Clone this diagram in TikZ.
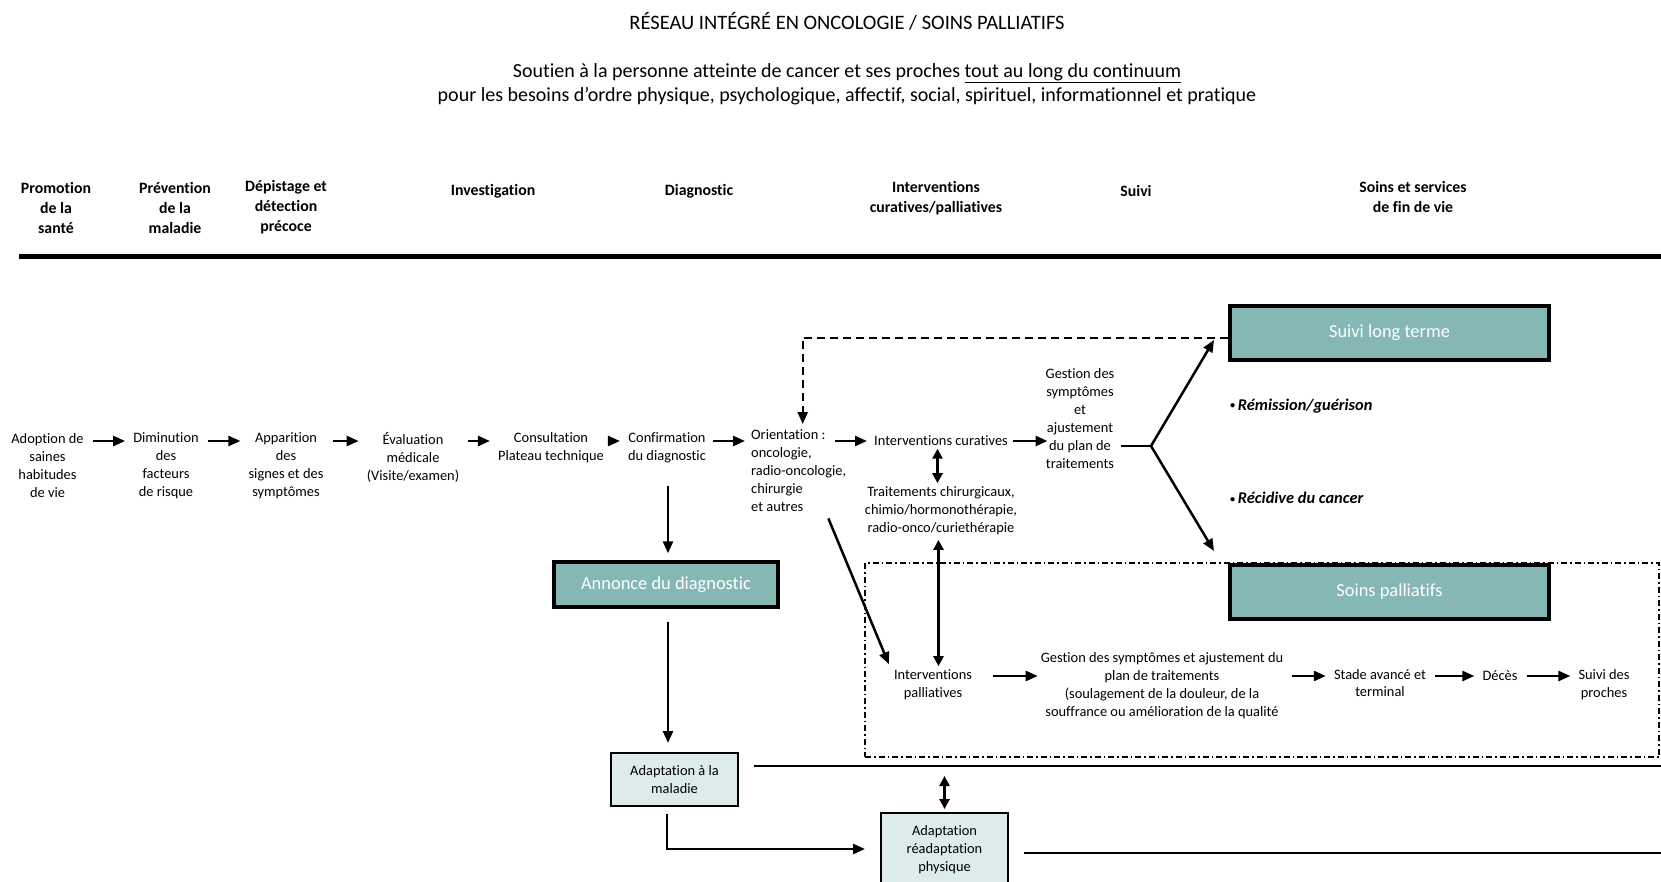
\documentclass[tikz,border=0pt]{standalone}
\usepackage{fontspec}
\setmainfont[Ligatures=NoCommon]{Carlito}
\usetikzlibrary{arrows.meta,calc}
\definecolor{boxteal}{HTML}{85B8B4}
\definecolor{boxlight}{HTML}{DDEBEA}
\newcommand{\smallbul}{\raisebox{1.5pt}{\fontsize{10}{10}\selectfont •}}
\begin{document}
\begin{tikzpicture}[x=1pt,y=-1pt,
  txt/.style={align=center,inner sep=3pt,font=\fontsize{14.4}{18}\selectfont},
  hdr/.style={align=center,inner sep=0pt,font=\bfseries\fontsize{15.8}{20}\selectfont},
  note/.style={anchor=west,inner sep=0pt,font=\bfseries\itshape\fontsize{16.4}{18}\selectfont},
  arr/.style={line width=2.5pt,-{Triangle[length=12pt,width=10pt]}},
  sarr/.style={arr,shorten <=6pt,shorten >=5pt},
  darr/.style={line width=2.6pt,{Triangle[length=10pt,width=10pt]}-{Triangle[length=10pt,width=10pt]}},
  plain/.style={line width=2.4pt},
  tealbox/.style={draw,line width=3.4pt,fill=boxteal,text=white,inner sep=0pt,font=\fontsize{18.4}{20}\selectfont},
  lightbox/.style={draw,line width=2pt,fill=boxlight,align=center,inner sep=0pt,font=\fontsize{14.4}{18}\selectfont},
  dshline/.style={line width=2.2pt,dash pattern=on 8pt off 5pt,-{Triangle[length=12pt,width=10pt]}},
  dashdotbox/.style={draw,line width=1.6pt,dash pattern=on 6pt off 3pt on 1.5pt off 3pt,inner sep=0pt}
]
\useasboundingbox (0,0) rectangle (1661,882);
\clip (0,0) rectangle (1661,882);

% Titles
\node[font=\fontsize{20.5}{24}\selectfont] (title) at (847,21) {RÉSEAU INTÉGRÉ EN ONCOLOGIE / SOINS PALLIATIFS};
\node[align=center,font=\fontsize{20}{24}\selectfont] (sub) at (847,84)
  {Soutien à la personne atteinte de cancer et ses proches \underline{tout au long du continuum}\\
   pour les besoins d’ordre physique, psychologique, affectif, social, spirituel, informationnel et pratique};

% Column headers
\node[hdr] (h1) at (56,207.6) {Promotion\\de la\\santé};
\node[hdr] (h2) at (175,207.6) {Prévention\\de la\\maladie};
\node[hdr] (h3) at (286,207.6) {Dépistage et\\détection\\précoce};
\node[hdr] (h4) at (493,191) {Investigation};
\node[hdr] (h5) at (699,191) {Diagnostic};
\node[hdr] (h6) at (936,198) {Interventions\\curatives/palliatives};
\node[hdr] (h7) at (1136,191) {Suivi};
\node[hdr] (h8) at (1413,197.5) {Soins et services\\de fin de vie};
\draw[line width=5pt] (19,257) -- (1661,257);

% Main row
\coordinate (row) at (0,441);
\node[txt] (n1) at (47.5,465.5) {Adoption de\\saines\\habitudes\\de vie};
\node[txt] (n2) at (166,465.5) {Diminution\\des\\facteurs\\de risque};
\node[txt] (n3) at (286,465.5) {Apparition\\des\\signes et des\\symptômes};
\node[txt] (n4) at (413,457) {Évaluation\\médicale\\(Visite/examen)};
\node[txt] (n5) at (551,448) {Consultation\\Plateau technique};
\node[txt] (n6) at (667,448) {Confirmation\\du diagnostic};
\node[txt,align=left,anchor=north west] (n7) at (748,426) {Orientation~:\\oncologie,\\radio-oncologie,\\chirurgie\\et autres};
\node[txt] (n8) at (941,440.5) {Interventions curatives};
\node[txt] (n9) at (1080,419) {Gestion des\\symptômes\\et\\ajustement\\du plan de\\traitements};
\node[txt] (n10) at (941,510.5) {Traitements chirurgicaux,\\chimio/hormonothérapie,\\radio-onco/curiethérapie};

\foreach \a/\b in {n1/n2,n2/n3,n3/n4,n4/n5,n5/n6}
  \draw[sarr] (\a.east |- row) -- (\b.west |- row);
\draw[arr,shorten <=4pt,shorten >=3pt] (n6.east |- row) -- (n7.west |- row);
\draw[arr,shorten >=4pt] ([xshift=-14pt]n7.east |- row) -- (n8.west |- row);
\draw[arr,shorten <=2pt] (n8.east |- row) -- ([xshift=5pt]n9.west |- row);

% Outcomes after treatment
\node[tealbox,minimum width=319pt,minimum height=54pt] (slt) at (1389.5,333) {Suivi long terme};
\node[note] (rem) at (1230,406) {\smallbul\,Rémission/guérison};
\node[note] (rec) at (1230,498) {\smallbul\,Récidive du cancer};
\coordinate (fork) at (1151,446);
\coordinate (fa) at (1214,340);
\coordinate (fb) at (1214,551);
\draw[plain,line width=2pt] ([xshift=3pt]n9.east |- fork) -- (fork);
\draw[arr] (fork) -- (fa);
\draw[arr] (fork) -- (fb);
\draw[dshline] ([yshift=-5pt]slt.west) -| ([xshift=4pt,yshift=2pt]n7.north);

% Palliative area
\node[dashdotbox,minimum width=794pt,minimum height=194pt] (pal) at (1262,660) {};
\node[tealbox,minimum width=319pt,minimum height=54pt] (sp) at (1389.5,592) {Soins palliatifs};
\coordinate (row2) at (0,676);
\node[txt] (n11) at (933,684.5) {Interventions\\palliatives};
\node[txt] (n12) at (1162,686) {Gestion des symptômes et ajustement du\\plan de traitements\\(soulagement de la douleur, de la\\souffrance ou amélioration de la qualité};
\node[txt,font=\fontsize{14.4}{17}\selectfont] (n13) at (1380,683.5) {Stade avancé et\\terminal};
\node[txt] (n14) at (1500,676) {Décès};
\node[txt] (n15) at (1604,684.5) {Suivi des\\proches};
\draw[arr,shorten <=18pt] (n11.east |- row2) -- (n12.west |- row2);
\foreach \a/\b in {n12/n13,n13/n14,n14/n15}
  \draw[sarr] (\a.east |- row2) -- (\b.west |- row2);

\draw[darr] ([xshift=-3.5pt]n8.south) -- ([xshift=-3.5pt]n10.north);
\draw[darr] ([xshift=-2.5pt,yshift=-2pt]n10.south) -- ([xshift=-2.5pt]n10.south |- n11.north);
\draw[arr] ([xshift=-21pt,yshift=-4pt]n7.south east) -- ([xshift=-2pt,yshift=2pt]n11.north west);

% Diagnosis announcement and adaptation
\node[tealbox,minimum width=224pt,minimum height=45pt] (ann) at (666,584.5) {Annonce du diagnostic};
\node[lightbox,minimum width=127pt,minimum height=53pt] (adm) at (674.5,779.5) {Adaptation à la\\maladie};
\node[lightbox,minimum width=127pt,minimum height=74pt] (arp) at (944.5,850) {Adaptation\\réadaptation\\physique};
\draw[arr] ([xshift=1pt,yshift=-20pt]n6.south) -- ([xshift=2pt,yshift=7pt]ann.north);
\draw[arr] ([xshift=2pt,yshift=-13pt]ann.south) -- ([xshift=-6.5pt,yshift=9pt]adm.north);
\draw[arr] ([xshift=-7.5pt,yshift=-7pt]adm.south) |- ([xshift=-15pt,yshift=1pt]arp.west);
\coordinate (e1) at (1661,766);
\coordinate (e2) at (1661,853);
\draw[plain] ([xshift=15pt]adm.east |- e1) -- (e1);
\draw[plain] ([xshift=15pt]arp.east |- e2) -- (e2);
\draw[darr] ([yshift=3pt]arp.north) -- ([yshift=-10pt]arp.north |- e1);
\end{tikzpicture}
\end{document}
